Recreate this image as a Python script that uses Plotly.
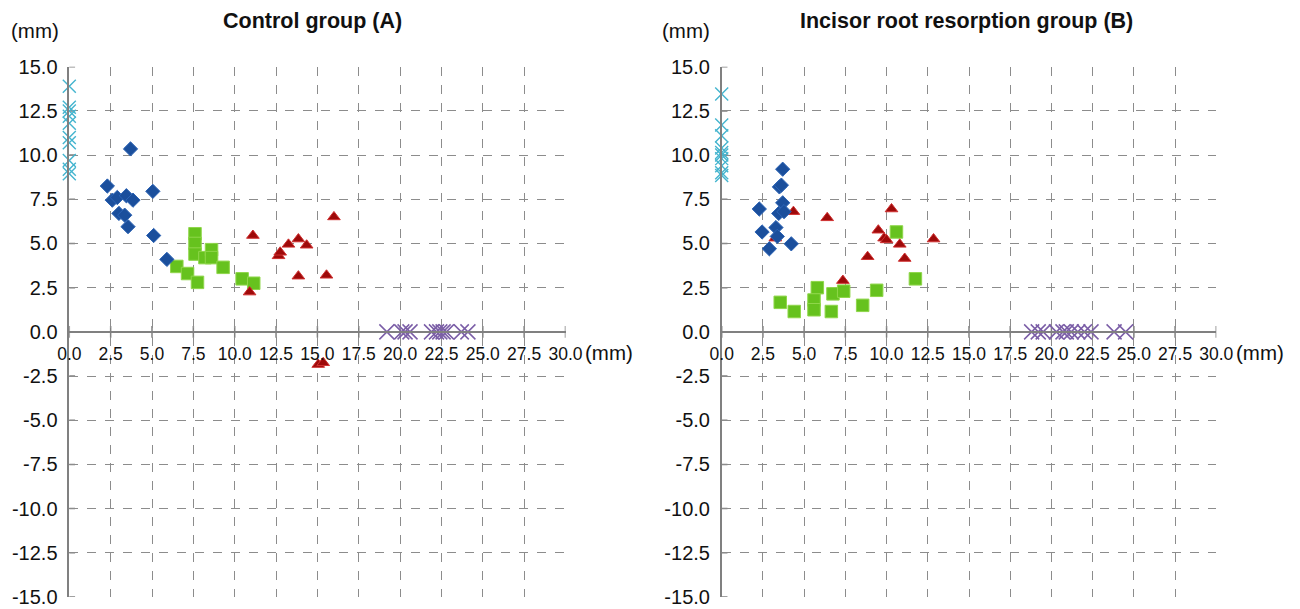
import plotly.graph_objects as go

# ---------------- data (mm) ----------------
# Control group (A)
a_star_x = [0, 0, 0, 0, 0, 0, 0, 0, 0, 0]
a_star_y = [13.9, 12.7, 12.5, 12.2, 11.8, 11.0, 10.7, 9.7, 9.2, 8.95]
a_diam_x = [2.3, 3.7, 2.6, 2.9, 3.45, 3.85, 5.05, 3.0, 3.35, 3.55, 5.1, 5.9]
a_diam_y = [8.25, 10.35, 7.45, 7.6, 7.7, 7.45, 7.95, 6.7, 6.6, 5.95, 5.45, 4.1]
a_sq_x = [6.5, 7.15, 7.75, 7.6, 7.6, 7.6, 8.2, 8.6, 8.6, 9.3, 10.45, 11.15]
a_sq_y = [3.7, 3.3, 2.8, 5.55, 5.0, 4.4, 4.2, 4.65, 4.2, 3.65, 3.0, 2.75]
a_tri_x = [11.1, 10.9, 12.65, 12.75, 13.25, 13.85, 14.35, 13.85, 15.55, 16.0, 15.05, 15.35]
a_tri_y = [5.45, 2.25, 4.3, 4.5, 4.95, 5.25, 4.9, 3.15, 3.2, 6.5, -1.85, -1.75]
a_x_x = [19.2, 20.1, 20.3, 20.6, 21.9, 22.2, 22.4, 22.6, 22.8, 23.7, 24.1]
a_x_y = [0] * 11

# Incisor root resorption group (B)
b_star_x = [0, 0, 0, 0, 0, 0, 0, 0, 0, 0]
b_star_y = [13.45, 11.7, 11.1, 10.4, 10.15, 10.0, 9.8, 9.4, 9.0, 8.85]
b_diam_x = [3.7, 3.5, 3.62, 3.7, 2.28, 3.46, 3.78, 3.29, 2.45, 3.37, 2.89, 4.22]
b_diam_y = [9.2, 8.2, 8.3, 7.3, 6.95, 6.7, 6.8, 5.9, 5.65, 5.4, 4.7, 4.98]
b_sq_x = [3.55, 4.4, 5.8, 5.6, 5.6, 6.65, 6.75, 7.4, 8.55, 9.4, 10.6, 11.75]
b_sq_y = [1.67, 1.15, 2.5, 1.8, 1.25, 1.15, 2.15, 2.3, 1.5, 2.35, 5.65, 3.0]
b_tri_x = [4.35, 3.25, 6.4, 7.35, 10.3, 9.5, 9.85, 10.0, 10.8, 8.85, 11.1, 12.85]
b_tri_y = [6.8, 5.3, 6.45, 2.9, 6.95, 5.75, 5.3, 5.2, 4.95, 4.25, 4.15, 5.25]
b_x_x = [18.8, 19.2, 19.5, 20.3, 20.7, 20.9, 21.2, 21.6, 22.0, 22.4, 23.8, 24.5]
b_x_y = [0] * 12

tick_vals = [-15.0, -12.5, -10.0, -7.5, -5.0, -2.5, 0.0, 2.5, 5.0, 7.5, 10.0, 12.5, 15.0]
x_tick_vals = [0.0, 2.5, 5.0, 7.5, 10.0, 12.5, 15.0, 17.5, 20.0, 22.5, 25.0, 27.5, 30.0]
titles = ["Control group (A)", "Incisor root resorption group (B)"]

# ---------------- styles ----------------
C_STAR = "#45b5cf"
C_DIAM = "#1b4f9c"
C_SQ = "#66c21e"
C_TRI = "#9e0a0a"
C_X = "#7b5ea7"
FONT = "Liberation Sans, Arial, sans-serif"
GRID = "#8c8c8c"
AXIS = "#808080"
TXT = "#111111"
FS_Y = 20
FS_X = 17.5
FS_T = 21.5
FS_MM = 20.5

fig = go.Figure()

panels = [
    dict(xa="x", ya="y", star=(a_star_x, a_star_y), diam=(a_diam_x, a_diam_y),
         sq=(a_sq_x, a_sq_y), tri=(a_tri_x, a_tri_y), xx=(a_x_x, a_x_y)),
    dict(xa="x2", ya="y2", star=(b_star_x, b_star_y), diam=(b_diam_x, b_diam_y),
         sq=(b_sq_x, b_sq_y), tri=(b_tri_x, b_tri_y), xx=(b_x_x, b_x_y)),
]

for p in panels:
    common = dict(xaxis=p["xa"], yaxis=p["ya"], mode="markers", showlegend=False,
                  cliponaxis=False, hoverinfo="x+y")
    fig.add_trace(go.Scatter(x=p["xx"][0], y=p["xx"][1],
                             marker=dict(symbol="x-thin-open", size=15, color=C_X,
                                         line=dict(color=C_X, width=1.5)), **common))
    fig.add_trace(go.Scatter(x=p["star"][0], y=p["star"][1],
                             marker=dict(symbol="x-thin-open", size=13, color=C_STAR,
                                         line=dict(color=C_STAR, width=1.4)), **common))
    fig.add_trace(go.Scatter(x=p["sq"][0], y=p["sq"][1],
                             marker=dict(symbol="square", size=12.5, color=C_SQ,
                                         line=dict(color="#8fd64a", width=1)), **common))
    fig.add_trace(go.Scatter(x=p["tri"][0], y=p["tri"][1],
                             marker=dict(symbol="triangle-up", size=11, color=C_TRI,
                                         line=dict(color="#d03030", width=1)), **common))
    fig.add_trace(go.Scatter(x=p["diam"][0], y=p["diam"][1],
                             marker=dict(symbol="diamond", size=11, color=C_DIAM,
                                         line=dict(color="#2d64b5", width=1)), **common))

y_dom = [1 - 597 / 609, 1 - 66.7 / 609]
x_doms = [[69.3 / 1300, 565.5 / 1300], [721.7 / 1300, 1216.3 / 1300]]

def xaxis_cfg(dom):
    return dict(domain=dom, range=[0, 30], anchor="free",
                position=(y_dom[0] + y_dom[1]) / 2, automargin=False,
                tickvals=x_tick_vals, ticktext=[f"{v:.1f}" for v in x_tick_vals],
                tickangle=0,
                ticks="", showline=True, linecolor=AXIS, linewidth=1.5,
                showgrid=True, gridcolor=GRID, griddash="dash", gridwidth=1,
                zeroline=False, tickfont=dict(family=FONT, size=FS_X, color=TXT),
                ticklabelstandoff=6, fixedrange=True)

def yaxis_cfg(xa):
    return dict(domain=y_dom, range=[-15, 15], anchor=xa, automargin=False,
                tickvals=tick_vals, ticktext=[f"{v:.1f}" for v in tick_vals],
                ticks="", showline=True, linecolor=AXIS, linewidth=1.5,
                showgrid=True, gridcolor=GRID, griddash="dash", gridwidth=1,
                zeroline=False, tickfont=dict(family=FONT, size=FS_Y, color=TXT),
                ticklabelstandoff=6, fixedrange=True)

fig.update_layout(
    xaxis=xaxis_cfg(x_doms[0]),
    yaxis=yaxis_cfg("x"),
    xaxis2=xaxis_cfg(x_doms[1]),
    yaxis2=yaxis_cfg("x2"),
)

# tick marks crossing the axes (Excel style)
shapes = []
for xr, yr in (("x", "y"), ("x2", "y2")):
    for v in x_tick_vals:
        shapes.append(dict(type="line", xref=xr, yref=yr, x0=v, x1=v, y0=-0.33, y1=0.33,
                           line=dict(color=AXIS, width=1.5), layer="below"))
    for v in tick_vals:
        shapes.append(dict(type="line", xref=xr, yref=yr, x0=-0.35, x1=0.35, y0=v, y1=v,
                           line=dict(color=AXIS, width=1.5), layer="below"))

annotations = []
title_cx = [312 / 1300, 966 / 1300]
ymm_cx = [35 / 1300, 686 / 1300]
xmm_lx = [583 / 1300, 1234 / 1300]
for i in range(2):
    annotations.append(dict(text=f"<b>{titles[i]}</b>", xref="paper", yref="paper",
                            x=title_cx[i], y=1 - 21 / 609, xanchor="center", yanchor="middle",
                            showarrow=False, font=dict(family=FONT, size=FS_T, color=TXT)))
    annotations.append(dict(text="(mm)", xref="paper", yref="paper",
                            x=ymm_cx[i], y=1 - 30 / 609, xanchor="center", yanchor="middle",
                            showarrow=False, font=dict(family=FONT, size=FS_MM, color=TXT)))
    annotations.append(dict(text="(mm)", xref="paper", yref="paper",
                            x=xmm_lx[i], y=1 - 352 / 609, xanchor="left", yanchor="middle",
                            showarrow=False, font=dict(family=FONT, size=FS_MM, color=TXT)))

fig.update_layout(
    width=1300, height=609, margin=dict(l=0, r=0, t=0, b=0),
    paper_bgcolor="white", plot_bgcolor="white",
    shapes=shapes, annotations=annotations,
    font=dict(family=FONT, size=FS_Y, color=TXT),
)

fig.write_html("out.html", config={"displayModeBar": False})
